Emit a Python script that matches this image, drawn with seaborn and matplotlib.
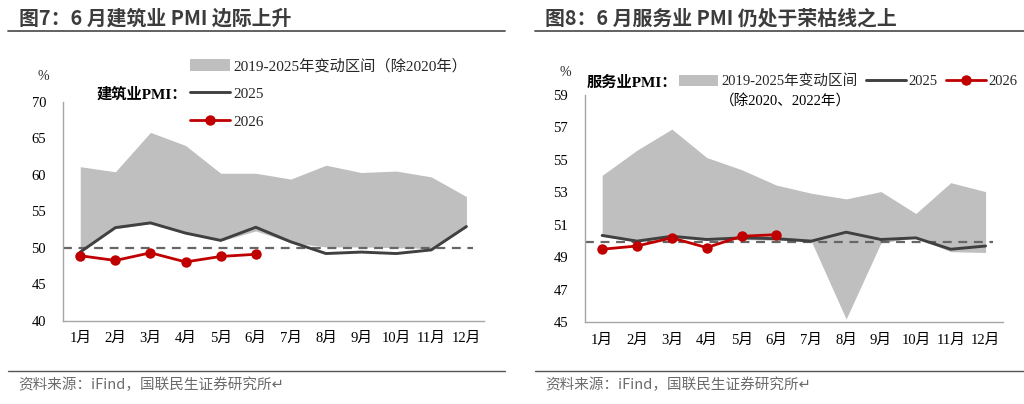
import matplotlib
matplotlib.use("Agg")
import matplotlib.pyplot as plt
import seaborn as sns
import pandas as pd
import numpy as np
from matplotlib.patches import Patch
from matplotlib.lines import Line2D

# ---------------- data ----------------
months = ['1月', '2月', '3月', '4月', '5月', '6月', '7月', '8月', '9月', '10月', '11月', '12月']

con_band_high = [61.1, 60.4, 65.8, 64.0, 60.2, 60.2, 59.4, 61.3, 60.3, 60.5, 59.7, 57.0]
con_band_low = [49.6, 52.6, 53.3, 51.9, 50.9, 52.3, 50.7, 50.1, 50.1, 50.0, 49.9, 52.8]
con_2025 = [49.4, 52.75, 53.4, 52.0, 51.0, 52.8, 50.8, 49.2, 49.4, 49.2, 49.7, 52.9]
con_2026 = [48.9, 48.25, 49.3, 48.05, 48.8, 49.1]

srv_band_high = [54.05, 55.6, 56.9, 55.15, 54.4, 53.45, 52.95, 52.6, 53.05, 51.7, 53.6, 53.05]
srv_band_low = [50.3, 49.95, 50.2, 50.05, 50.1, 50.05, 50.0, 45.2, 49.9, 50.2, 49.35, 49.3]
srv_2025 = [50.35, 50.0, 50.3, 50.1, 50.2, 50.15, 50.0, 50.55, 50.1, 50.2, 49.5, 49.7]
srv_2026 = [49.5, 49.7, 50.2, 49.6, 50.3, 50.4]

con_yticks = [40, 45, 50, 55, 60, 65, 70]
srv_yticks = [45, 47, 49, 51, 53, 55, 57, 59]

titles = ['图7：6 月建筑业 PMI 边际上升', '图8：6 月服务业 PMI 仍处于荣枯线之上']
source = '资料来源：iFind，国联民生证券研究所↵'

# ---------------- style ----------------
sns.set_style("white")
plt.rcParams['font.family'] = ['Liberation Serif', 'Noto Sans CJK SC', 'DejaVu Sans']
plt.rcParams['axes.unicode_minus'] = False

SERIF = ['Liberation Serif', 'Noto Sans CJK SC', 'DejaVu Sans']
SANS = ['Noto Sans CJK SC', 'DejaVu Sans']

BAND = '#bfbfbf'
L25 = '#404040'
RED = '#c00000'
AXC = '#a6a6a6'
DASH = '#666666'

fig = plt.figure(figsize=(10.24, 4.04), dpi=100)

W, H = 1024, 404
def fr(x0, y_top, x1, y_bot):
    return [x0 / W, 1 - y_bot / H, (x1 - x0) / W, (y_bot - y_top) / H]

ax1 = fig.add_axes(fr(62.7, 101.7, 484.0, 320.7))
ax2 = fig.add_axes(fr(584.7, 95.0, 1003.0, 322.3))


def draw(ax, low, high, y25, y26, yticks, thr):
    x = np.arange(len(months))
    ax.fill_between(x, low, high, color=BAND, linewidth=0, zorder=1)
    ax.axhline(thr, xmin=0.0, xmax=0.975, color=DASH, lw=1.6, ls=(0, (4, 3)), zorder=2)
    df25 = pd.DataFrame({'x': x, 'y': y25})
    sns.lineplot(data=df25, x='x', y='y', ax=ax, color=L25, lw=2.1, zorder=3)
    df26 = pd.DataFrame({'x': x[:len(y26)], 'y': y26})
    sns.lineplot(data=df26, x='x', y='y', ax=ax, color=RED, lw=2.0, marker='o',
                 markersize=7.5, markeredgewidth=0, zorder=4)
    ax.set_xlim(-0.5, len(months) - 0.5)
    ax.set_ylim(yticks[0], yticks[-1])
    ax.set_yticks(yticks)
    ax.set_xticks(x)
    ax.set_xticklabels(months)
    ax.set_xticks(np.arange(-0.5, len(months), 1.0), minor=True)
    ax.set_xlabel('')
    ax.set_ylabel('')
    for s in ['top', 'right']:
        ax.spines[s].set_visible(False)
    for s in ['left', 'bottom']:
        ax.spines[s].set_color(AXC)
        ax.spines[s].set_linewidth(1.0)
    ax.tick_params(axis='x', which='major', length=0, pad=8, labelsize=10.5, colors='#000000')
    ax.tick_params(axis='x', which='minor', length=4, direction='out', color=AXC, width=1.0)
    ax.tick_params(axis='y', which='major', length=3, direction='out', color=AXC, width=1.0,
                   pad=9, labelsize=10.5, colors='#000000')
    for lab in ax.get_xticklabels() + ax.get_yticklabels():
        lab.set_family(SERIF)
        lab.set_color('#000000')
    ax.patch.set_alpha(0)


draw(ax1, con_band_low, con_band_high, con_2025, con_2026, con_yticks, 50)
draw(ax2, srv_band_low, srv_band_high, srv_2025, srv_2026, srv_yticks, 49.93)

# ---------------- legends ----------------
h_band = Patch(facecolor=BAND, edgecolor='none')
h_25 = Line2D([], [], color=L25, lw=2.1)
h_26 = Line2D([], [], color=RED, lw=2.0, marker='o', markersize=7.5, markeredgewidth=0)

leg1 = fig.legend([h_band, h_25, h_26],
                  ['2019-2025年变动区间（除2020年）', '2025', '2026'],
                  loc='upper left', bbox_to_anchor=(190.0 / W, 1 - 58.5 / H),
                  frameon=False, borderpad=0, borderaxespad=0, handlelength=2.6,
                  handleheight=0.8, handletextpad=0.25, labelspacing=0.9,
                  prop={'family': SERIF, 'size': 11})
fig.text(97 / W, 1 - 94 / H, '建筑业PMI：', fontsize=11, fontweight='bold', family=SERIF,
         va='center', ha='left', color='#000000')

leg2 = fig.legend([h_band, h_25, h_26],
                  ['2019-2025年变动区间', '2025', '2026'],
                  loc='upper left', bbox_to_anchor=(679.0 / W, 1 - 74.5 / H), ncol=3,
                  frameon=False, borderpad=0, borderaxespad=0, handlelength=2.7,
                  handleheight=0.8, handletextpad=0.2, columnspacing=0.6,
                  prop={'family': SERIF, 'size': 10.5})
fig.text(587 / W, 1 - 83 / H, '服务业PMI：', fontsize=11, fontweight='bold', family=SERIF,
         va='center', ha='left', color='#000000')
fig.text(785 / W, 1 - 102 / H, '（除2020、2022年）', fontsize=10.5, family=SERIF,
         va='center', ha='center', color='#000000')

# percent labels
fig.text(38 / W, 1 - 76 / H, '%', fontsize=10, family=SERIF, va='center', ha='left')
fig.text(559 / W, 1 - 72 / H, '%', fontsize=10, family=SERIF, va='center', ha='left')

# ---------------- titles, rules, sources ----------------
TITLE_C = '#3c3c3c'
fig.text(19 / W, 1 - 18 / H, titles[0], fontsize=14.3, fontweight='bold', family=SANS,
         va='center', ha='left', color=TITLE_C)
fig.text(545 / W, 1 - 18 / H, titles[1], fontsize=14.3, fontweight='bold', family=SANS,
         va='center', ha='left', color=TITLE_C)

for (x0, x1) in [(8, 505), (535, 1024)]:
    fig.add_artist(Line2D([x0 / W, x1 / W], [1 - 30.5 / H, 1 - 30.5 / H],
                          color='#555555', lw=1.3, transform=fig.transFigure))
    fig.add_artist(Line2D([x0 / W, x1 / W], [1 - 370.5 / H, 1 - 370.5 / H],
                          color='#555555', lw=1.0, transform=fig.transFigure))

fig.text(18 / W, 1 - 385 / H, source, fontsize=10.5, family=SANS,
         va='center', ha='left', color='#6b6b6b')
fig.text(545 / W, 1 - 385 / H, source, fontsize=10.5, family=SANS,
         va='center', ha='left', color='#6b6b6b')

fig.savefig('out.png', dpi=100)
